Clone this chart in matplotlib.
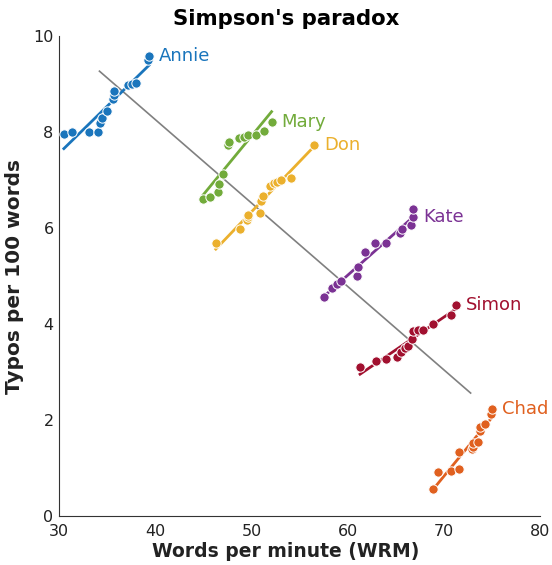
import matplotlib
matplotlib.use("Agg")
import matplotlib.pyplot as plt
import numpy as np

names = ["Annie", "Mary", "Don", "Kate", "Simon", "Chad"]
colors = ["#1a75bc", "#72ab3b", "#ebb02d", "#7b3294", "#a1102f", "#e0601f"]

annie_x = [30.5, 31.35, 33.1, 34.1, 34.3, 34.5, 35.0, 35.6, 35.75, 35.75, 37.2, 37.6, 38.0, 39.2, 39.35]
annie_y = [7.97, 8.0, 8.01, 8.01, 8.2, 8.29, 8.44, 8.68, 8.77, 8.85, 8.98, 9.0, 9.03, 9.51, 9.58]
mary_x = [45.0, 45.7, 46.5, 46.66, 47.1, 47.57, 47.67, 48.7, 49.2, 49.6, 50.5, 51.35, 52.1]
mary_y = [6.60, 6.64, 6.76, 6.91, 7.12, 7.73, 7.80, 7.87, 7.89, 7.93, 7.94, 8.03, 8.21]
don_x = [46.3, 48.85, 49.5, 49.7, 49.7, 50.9, 51.0, 51.2, 51.93, 52.4, 52.7, 53.1, 54.15, 56.55]
don_y = [5.68, 5.97, 6.17, 6.24, 6.28, 6.31, 6.56, 6.67, 6.875, 6.94, 6.97, 7.01, 7.05, 7.74]
kate_x = [57.55, 58.4, 58.87, 59.3, 60.95, 61.1, 61.85, 62.9, 64.0, 65.5, 65.7, 66.55, 66.83, 66.83]
kate_y = [4.56, 4.74, 4.83, 4.90, 4.99, 5.19, 5.49, 5.69, 5.69, 5.90, 5.99, 6.06, 6.24, 6.40]
simon_x = [61.3, 63.0, 64.0, 65.1, 65.55, 65.97, 66.3, 66.66, 66.77, 67.35, 67.87, 68.85, 70.75, 71.27]
simon_y = [3.10, 3.23, 3.27, 3.31, 3.42, 3.49, 3.54, 3.68, 3.86, 3.875, 3.875, 4.0, 4.19, 4.40]
chad_x = [68.84, 69.43, 70.78, 71.6, 71.6, 72.93, 73.0, 73.07, 73.6, 73.76, 73.76, 74.3, 74.9, 75.04]
chad_y = [0.556, 0.92, 0.94, 0.97, 1.33, 1.39, 1.44, 1.51, 1.53, 1.76, 1.86, 1.92, 2.125, 2.22]

xs = [annie_x, mary_x, don_x, kate_x, simon_x, chad_x]
ys = [annie_y, mary_y, don_y, kate_y, simon_y, chad_y]

# overall trend line
trend_x = [34.2, 72.8]
trend_y = [9.27, 2.56]

fig = plt.figure(figsize=(5.52, 5.65), dpi=100)
ax = fig.add_axes([0.107, 0.087, 0.871, 0.849])

ax.plot(trend_x, trend_y, color="#808080", lw=1.2, zorder=1)

for name, c, x, y in zip(names, colors, xs, ys):
    x = np.array(x)
    y = np.array(y)
    k, d = np.polyfit(x, y, 1)
    lx = np.array([x.min(), x.max()])
    ax.plot(lx, k * lx + d, color=c, lw=2, zorder=2)
    ax.scatter(x, y, s=45, color=c, edgecolor="white", linewidth=0.7, zorder=3)
    i = np.argmax(x)
    ax.annotate(name, (x[i], y[i]), xytext=(7, 0), textcoords="offset points",
                color=c, fontsize=13, va="center", ha="left")

ax.set_xlim(30, 80)
ax.set_ylim(0, 10)
ax.set_xticks([30, 40, 50, 60, 70, 80])
ax.set_yticks([0, 2, 4, 6, 8, 10])
ax.tick_params(length=0, labelsize=11.5, colors="#222222")
ax.tick_params(axis="x", pad=6)
ax.tick_params(axis="y", pad=4)
for s in ["top", "right"]:
    ax.spines[s].set_visible(False)
for s in ["left", "bottom"]:
    ax.spines[s].set_color("#333333")

ax.set_xlabel("Words per minute (WRM)", fontsize=13.5, fontweight="bold", color="#222222", labelpad=1)
ax.xaxis.set_label_coords(0.472, -0.055)
ax.set_ylabel("Typos per 100 words", fontsize=14.5, fontweight="bold", color="#222222")
ax.yaxis.set_label_coords(-0.072, 0.5)
ax.set_title("Simpson's paradox", fontsize=15.3, fontweight="bold", pad=8, x=0.472)

fig.savefig("out.png", dpi=100)
